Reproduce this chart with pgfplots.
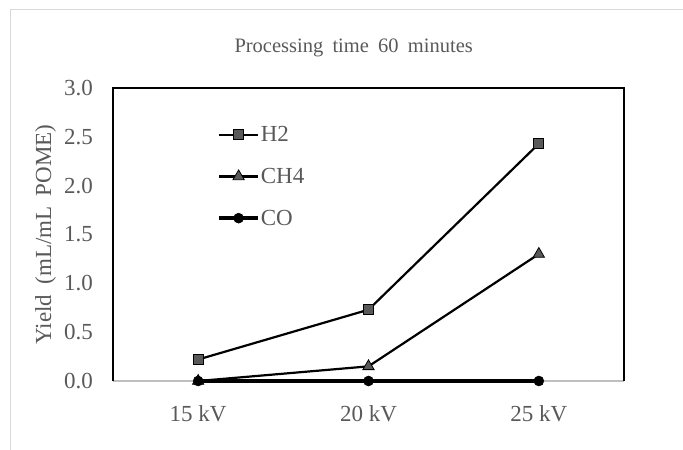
\documentclass[border=0pt]{standalone}
\usepackage{fontspec}
\setmainfont{Liberation Serif}
\usepackage{pgfplots}
\pgfplotsset{compat=1.18}
\definecolor{txtgray}{HTML}{595959}
\definecolor{mkgray}{HTML}{595959}
\definecolor{axgray}{HTML}{BFBFBF}
\definecolor{bordergray}{HTML}{D9D9D9}
\begin{document}
\begin{tikzpicture}
\useasboundingbox (0bp,0bp) rectangle (683bp,450bp);
% outer chart border
\draw[bordergray, line width=1bp] (10bp,-5bp) -- (10bp,440bp) -- (690bp,440bp);
\begin{axis}[
    at={(113bp,69bp)}, anchor=south west,
    scale only axis,
    width=511bp, height=293bp,
    xmin=0.5, xmax=3.5,
    ymin=0, ymax=3,
    xtick={1,2,3},
    xticklabels={15 kV, 20 kV, 25 kV},
    ytick={0,0.5,...,3},
    major tick length=0pt,
    axis line style={draw=none},
    clip=false,
    font=\fontsize{23bp}{27bp}\selectfont,
    tick label style={txtgray, inner sep=0pt},
    /pgf/number format/assume math mode=true,
    yticklabel style={/pgf/number format/.cd, fixed, fixed zerofill, precision=1},
    yticklabel shift=20bp,
    xticklabel shift=24bp,
    ylabel={Yield\hspace{0.45em}(mL/mL\hspace{0.45em}POME)},
    ylabel style={txtgray, at={(axis description cs:-0.132,0.5)}, anchor=center},
    title={Processing\hspace{0.45em}time\hspace{0.45em}60\hspace{0.45em}minutes},
    title style={txtgray, font=\fontsize{20.5bp}{24bp}\selectfont, at={(axis description cs:0.471,1.115)}, anchor=center},
    legend style={draw=none, fill=none, at={(axis description cs:0.198,0.88)}, anchor=north west,
        row sep=23bp, nodes={text=txtgray, inner sep=1bp}},
    legend cell align=left,
    legend image code/.code={\draw[mark repeat=2,mark phase=2,#1] plot coordinates {(0bp,0bp) (19.5bp,0bp) (39bp,0bp)};},
]
\draw[axgray, line width=1.2bp] (rel axis cs:0,0) -- (rel axis cs:1,0);
\addplot[black, line width=2.2bp, mark=square*, mark size=5bp,
    mark options={fill=mkgray, draw=black, line width=0.8bp}]
    coordinates {(1,0.22) (2,0.73) (3,2.43)};
\addplot[black, line width=2.2bp, mark=triangle*, mark size=6.5bp,
    mark options={fill=mkgray, draw=black, line width=0.8bp}]
    coordinates {(1,0.0) (2,0.15) (3,1.30)};
\addplot[black, line width=3.5bp, mark=*, mark size=5bp,
    mark options={fill=black, draw=black, line width=0.5bp}]
    coordinates {(1,0) (2,0) (3,0)};
\draw[black, line width=1.4bp] (rel axis cs:0,0) -- (rel axis cs:0,1) -- (rel axis cs:1,1) -- (rel axis cs:1,0);
\legend{H2, CH4, CO}
\end{axis}
\end{tikzpicture}
\end{document}
